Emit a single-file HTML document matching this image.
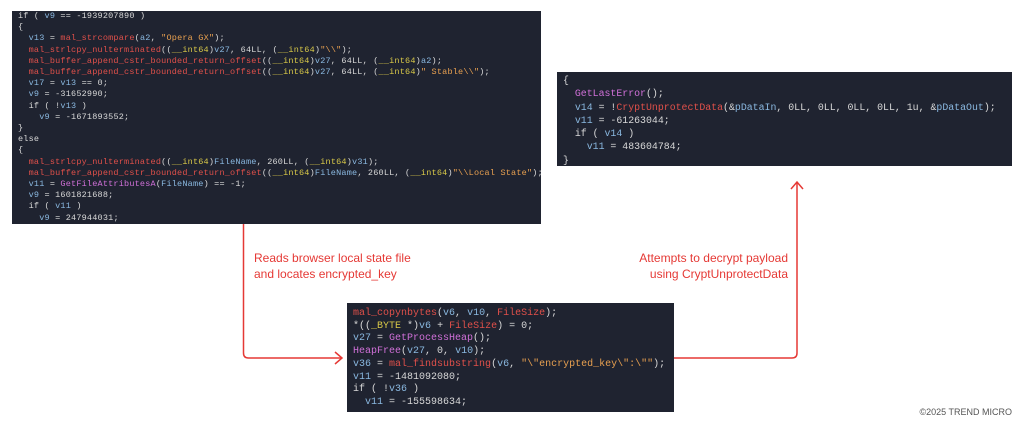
<!DOCTYPE html>
<html><head><meta charset="utf-8"><style>
body{margin:0;width:1024px;height:430px;background:#fff;position:relative;overflow:hidden;font-family:"Liberation Sans",sans-serif}
.box{position:absolute;background:#1f2330;font-family:"Liberation Mono",monospace;color:#d8d8d8;box-sizing:border-box;padding-left:6px;overflow:hidden}
.box div{white-space:pre}
.v{color:#8ab8e0}.f{color:#e0504a}.s{color:#e8a050}.y{color:#d8c848}.m{color:#d070d8}
.lbl{position:absolute;color:#e53935;font-size:12px;line-height:16px}
</style></head><body>
<div class="box" style="left:12px;top:11px;width:529px;height:213px;padding-top:0px;font-size:8.5px;letter-spacing:0.2px;line-height:11.2px">
<div>if ( <span class="v">v9</span> == -1939207890 )</div>
<div>{</div>
<div>  <span class="v">v13</span> = <span class="f">mal_strcompare</span>(<span class="v">a2</span>, <span class="s">"Opera GX"</span>);</div>
<div>  <span class="f">mal_strlcpy_nulterminated</span>((<span class="y">__int64</span>)<span class="v">v27</span>, 64LL, (<span class="y">__int64</span>)<span class="s">"\\"</span>);</div>
<div>  <span class="f">mal_buffer_append_cstr_bounded_return_offset</span>((<span class="y">__int64</span>)<span class="v">v27</span>, 64LL, (<span class="y">__int64</span>)<span class="v">a2</span>);</div>
<div>  <span class="f">mal_buffer_append_cstr_bounded_return_offset</span>((<span class="y">__int64</span>)<span class="v">v27</span>, 64LL, (<span class="y">__int64</span>)<span class="s">" Stable\\"</span>);</div>
<div>  <span class="v">v17</span> = <span class="v">v13</span> == 0;</div>
<div>  <span class="v">v9</span> = -31652990;</div>
<div>  if ( !<span class="v">v13</span> )</div>
<div>    <span class="v">v9</span> = -1671893552;</div>
<div>}</div>
<div>else</div>
<div>{</div>
<div>  <span class="f">mal_strlcpy_nulterminated</span>((<span class="y">__int64</span>)<span class="v">FileName</span>, 260LL, (<span class="y">__int64</span>)<span class="v">v31</span>);</div>
<div>  <span class="f">mal_buffer_append_cstr_bounded_return_offset</span>((<span class="y">__int64</span>)<span class="v">FileName</span>, 260LL, (<span class="y">__int64</span>)<span class="s">"\\Local State"</span>);</div>
<div>  <span class="v">v11</span> = <span class="m">GetFileAttributesA</span>(<span class="v">FileName</span>) == -1;</div>
<div>  <span class="v">v9</span> = 1601821688;</div>
<div>  if ( <span class="v">v11</span> )</div>
<div>    <span class="v">v9</span> = 247944031;</div>
</div>
<div class="box" style="left:557px;top:72px;width:455px;height:94px;padding-top:2px;font-size:9.9px;line-height:13.3px">
<div>{</div>
<div>  <span class="m">GetLastError</span>();</div>
<div>  <span class="v">v14</span> = !<span class="f">CryptUnprotectData</span>(&amp;<span class="v">pDataIn</span>, 0LL, 0LL, 0LL, 0LL, 1u, &amp;<span class="v">pDataOut</span>);</div>
<div>  <span class="v">v11</span> = -61263044;</div>
<div>  if ( <span class="v">v14</span> )</div>
<div>    <span class="v">v11</span> = 483604784;</div>
<div>}</div>
</div>
<div class="box" style="left:347px;top:303px;width:327px;height:109px;padding-top:5px;font-size:10px;line-height:12.7px">
<div><span class="f">mal_copynbytes</span>(<span class="v">v6</span>, <span class="v">v10</span>, <span class="f">FileSize</span>);</div>
<div>*((<span class="y">_BYTE</span> *)<span class="v">v6</span> + <span class="f">FileSize</span>) = 0;</div>
<div><span class="v">v27</span> = <span class="m">GetProcessHeap</span>();</div>
<div><span class="m">HeapFree</span>(<span class="v">v27</span>, 0, <span class="v">v10</span>);</div>
<div><span class="v">v36</span> = <span class="f">mal_findsubstring</span>(<span class="v">v6</span>, <span class="s">"\"encrypted_key\":\""</span>);</div>
<div><span class="v">v11</span> = -1481092080;</div>
<div>if ( !<span class="v">v36</span> )</div>
<div>  <span class="v">v11</span> = -155598634;</div>
</div>
<svg style="position:absolute;left:0;top:0" width="1024" height="430">
<path d="M243.5 224 V353 Q243.5 358 248.5 358 H342" fill="none" stroke="#e53935" stroke-width="1.5"/>
<path d="M335 352 L342 358 L335 364" fill="none" stroke="#e53935" stroke-width="1.5"/>
<path d="M674 358 H792 Q797 358 797 353 V182" fill="none" stroke="#e53935" stroke-width="1.5"/>
<path d="M791 189 L797 182 L803 189" fill="none" stroke="#e53935" stroke-width="1.5"/>
</svg>
<div class="lbl" style="left:254px;top:250px">Reads browser local state file<br>and locates encrypted_key</div>
<div class="lbl" style="right:236px;top:250px;text-align:right">Attempts to decrypt payload<br>using CryptUnprotectData</div>
<div style="position:absolute;right:12px;top:407px;font-size:9px;color:#555">©2025 TREND MICRO</div>
</body></html>
